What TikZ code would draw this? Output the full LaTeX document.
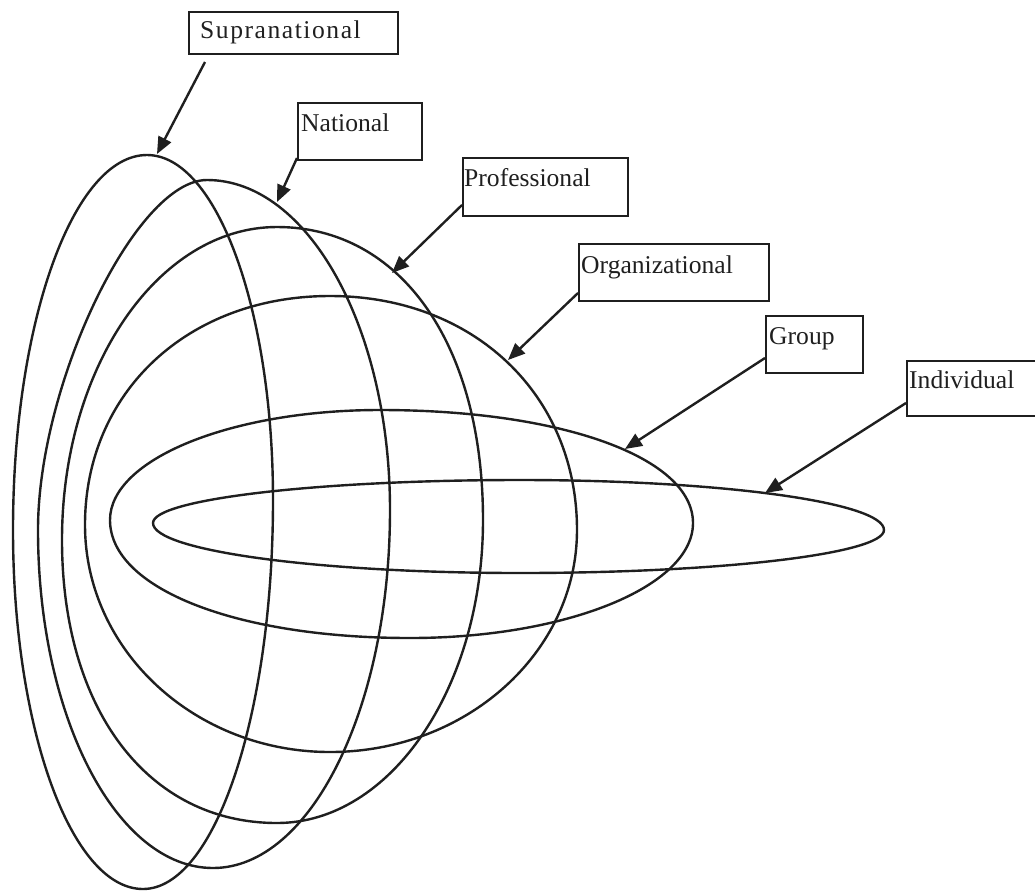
\documentclass[tikz,border=0pt]{standalone}
\usepackage{fontspec}
\setmainfont{Liberation Serif}
\usetikzlibrary{arrows.meta}
% #1,#2 top; #3,#4 right; #5,#6 bottom; #7,#8 left; handle factors \ka \kb \kc \kd per quadrant
\newcommand\eggpath[8]{(#1,#2) .. controls ({#1+\ka*(#3-#1)},#2) and (#3,{#4-\ka*(#4-#2)}) .. (#3,#4)
 .. controls (#3,{#4+\kb*(#6-#4)}) and ({#5+\kb*(#3-#5)},#6) .. (#5,#6)
 .. controls ({#5-\kc*(#5-#7)},#6) and (#7,{#8+\kc*(#6-#8)}) .. (#7,#8)
 .. controls (#7,{#8-\kd*(#8-#2)}) and ({#1-\kd*(#1-#7)},#2) .. (#1,#2)}
\newcommand\setk[4]{\def\ka{#1}\def\kb{#2}\def\kc{#3}\def\kd{#4}}
\begin{document}
\begin{tikzpicture}[x=0.5pt,y=-0.5pt,
  curve/.style={line width=1.2pt, draw=black!88, line cap=round, line join=round},
  lab/.style={draw=black!88, line width=1.2pt, anchor=north west, inner ysep=0pt, align=left,
    font=\fontsize{12.8pt}{14pt}\selectfont, text=black!88},
  ptr/.style={line width=1.2pt, draw=black!88, fill=black!80, -{Triangle[length=8.5pt,width=7pt]}}
]
\useasboundingbox (0,0) rectangle (1035,891);

% Supranational
\setk{0.552}{0.552}{0.552}{0.552}
\draw[curve] \eggpath{147}{155}{273}{500}{143}{889}{13}{530};
% National
\setk{0.552}{0.552}{0.552}{0.42}
\draw[curve] \eggpath{207}{180}{390}{510}{213}{868}{38}{530};
% Professional
\setk{0.6}{0.552}{0.6}{0.552}
\draw[curve] \eggpath{277}{227}{483}{520}{277}{823}{62}{540};
% Organizational
\setk{0.58}{0.552}{0.552}{0.58}
\draw[curve] \eggpath{330}{296}{577}{530}{330}{752}{85}{525};
% Group
\setk{0.58}{0.552}{0.58}{0.552}
\draw[curve] \eggpath{380}{410}{693}{523}{410}{638}{110}{520};
% Individual
\setk{0.552}{0.552}{0.552}{0.552}
\draw[curve] \eggpath{520}{480}{884}{530}{520}{573}{153}{523};

% boxes
\node[lab, inner xsep=5.5pt, text width=93.5pt, text height=13pt, text depth=8pt] (sup) at (188,11) {\addfontfeatures{LetterSpace=6}Supranational};
\node[lab, inner xsep=1.5pt, text width=59pt, text height=14pt, text depth=14.5pt] (nat) at (297,102) {National};
\node[lab, inner xsep=0.5pt, text width=81.5pt, text height=14pt, text depth=15pt] (pro) at (462,157) {Professional};
\node[lab, inner xsep=1pt, text width=93pt, text height=14.5pt, text depth=14pt] (org) at (578,243) {Organizational};
\node[lab, inner xsep=1.5pt, text width=45.5pt, text height=14pt, text depth=14.5pt] (grp) at (765,315) {Group};
\node[lab, inner xsep=1pt, text width=68pt, text height=13.5pt, text depth=14pt] (ind) at (906,360) {Individual};

% arrow ends
\coordinate (sS) at (205,62);   \coordinate (tS) at (157,154);
\coordinate (sN) at (297,158);  \coordinate (tN) at (277,202);
\coordinate (sP) at (462,205);  \coordinate (tP) at (392,273);
\coordinate (sO) at (578,293);  \coordinate (tO) at (508,360);
\coordinate (sG) at (765,358);  \coordinate (tG) at (625,449);
\coordinate (sI) at (906,403);  \coordinate (tI) at (765,493);

\draw[ptr] (sS) -- (tS);
\draw[ptr] (sN) -- (tN);
\draw[ptr] (sP) -- (tP);
\draw[ptr] (sO) -- (tO);
\draw[ptr] (sG) -- (tG);
\draw[ptr] (sI) -- (tI);
\end{tikzpicture}
\end{document}
